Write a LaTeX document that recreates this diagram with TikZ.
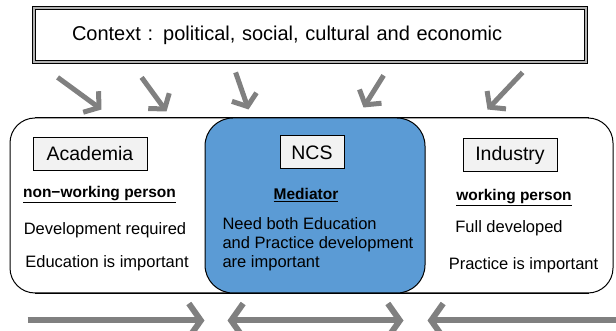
\documentclass[tikz,border=0pt]{standalone}
\usepackage{fontspec}
\setmainfont{Liberation Sans}
\usepackage{tikz}
\usetikzlibrary{arrows.meta,positioning}
\definecolor{ncsblue}{RGB}{91,155,213}
\definecolor{arrgray}{RGB}{128,128,128}
\definecolor{tagfill}{RGB}{242,242,242}

\begin{document}
\begin{tikzpicture}[x=1pt,y=1pt,
  tag/.style={draw,fill=tagfill,line width=1pt,minimum height=33pt,font=\fontsize{19.5}{22}\selectfont},
  ul/.style={font=\bfseries\fontsize{15.5}{18}\selectfont},
  txt/.style={font=\fontsize{16.5}{19}\selectfont,align=left},
  garr/.style={draw=arrgray,line width=5pt,-{Straight Barb[length=10pt,width=26pt]}},
  barr/.style={draw=arrgray,line width=6pt,-{Straight Barb[length=12pt,width=34pt]}}]
\useasboundingbox (0,0) rectangle (616,331);
% context frame
\node[draw,line width=0.8pt,double=gray!60,double distance=2pt,minimum width=552pt,minimum height=54pt,
  text width=476pt,inner xsep=38pt,align=left,font=\fontsize{20}{23}\selectfont] (ctx) at (310,296)
  {Context : political, social, cultural and economic};
% main panel and the blue middle part
\node[draw,line width=1pt,rounded corners=25pt,minimum width=603pt,minimum height=175pt] (body) at (311.5,125.5) {};
\node[draw,line width=1pt,fill=ncsblue,rounded corners=28pt,minimum width=220pt,minimum height=175pt] (ncs) at (315,125.5) {};
\draw[line width=1pt] (body.north west) ++(25,0) -- ([xshift=-25pt]body.north east);
\draw[line width=1pt] (body.south west) ++(25,0) -- ([xshift=-25pt]body.south east);
% headers
\node[tag,minimum width=114pt] (aca) at (90,177) {Academia};
\node[tag,minimum width=64pt] (ncstag) at (312,178.5) {NCS};
\node[tag,minimum width=94pt] (ind) at (510,176) {Industry};
% left column
\node[ul] (nwp) at (99.5,136) {\underline{non−working person}};
\node[txt] (devreq) at (105,101) {Development required};
\node[txt] (eduimp) at (107,68) {Education is important};
% middle column
\node[ul] (med) at (306,136) {\underline{Mediator}};
\node[txt,anchor=west] (need) at (219,87) {Need both Education\\and Practice development\\are important};
% right column
\node[ul] (wp) at (514,133) {\underline{working person}};
\node[txt] (full) at (509,103) {Full developed};
\node[txt] (pracimp) at (523.5,66) {Practice is important};
% influences from the context
\draw[garr] ([shift={(24,-15)}]ctx.south west) -- ([shift={(92,8)}]body.north west);
\draw[garr] ([shift={(108,-15)}]ctx.south west) -- ([shift={(157,6)}]body.north west);
\draw[garr] ([shift={(202,-10)}]ctx.south west) -- ([shift={(239,8)}]body.north west);
\draw[garr] ([shift={(350,-13)}]ctx.south west) -- ([shift={(354,10)}]body.north west);
\draw[garr] ([shift={(489,-10)}]ctx.south west) -- ([shift={(478,8)}]body.north west);
% flows along the bottom
\draw[barr] ([shift={(18,-27)}]body.south west) -- ([yshift=-27pt]ncs.south west);
\draw[barr,{Straight Barb[length=12pt,width=34pt]}-{Straight Barb[length=12pt,width=34pt]}] ([shift={(23,-27)}]ncs.south west) -- ([shift={(-22,-27)}]ncs.south east);
\draw[barr] ([shift={(3,-27)}]body.south east) -- ([shift={(2,-27)}]ncs.south east);
\end{tikzpicture}
\end{document}
